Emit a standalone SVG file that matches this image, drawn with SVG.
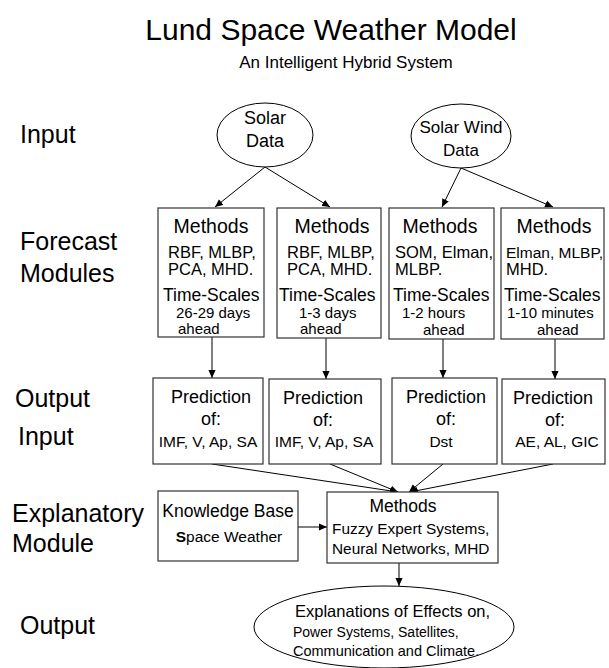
<svg xmlns="http://www.w3.org/2000/svg" width="609" height="668" viewBox="0 0 609 668">
<defs>
<marker id="ah" viewBox="0 0 10 10" refX="10" refY="5" markerWidth="8" markerHeight="8" orient="auto" markerUnits="userSpaceOnUse"><path d="M0,0.5 L10,5 L0,9.5 z" fill="#000"/></marker>
<style>
text{font-family:"Liberation Sans",Arial,sans-serif;fill:#000}
.box{fill:#fff;stroke:#333;stroke-width:1.2}
.ell{fill:#fff;stroke:#000;stroke-width:1}
.lbl{font-size:25px}
.mt{font-size:19.5px}
.l1{font-size:16.5px}
.ts{font-size:17.5px}
.sc{font-size:15px}
.pr{font-size:18px}
.pl{font-size:15.5px}
.c{text-anchor:middle}
.con{stroke:#000;stroke-width:1;fill:none;marker-end:url(#ah)}
</style>
</defs>
<rect width="609" height="668" fill="#fff"/>
<text x="331" y="40" class="c" style="font-size:30px">Lund Space Weather Model</text>
<text x="346" y="68" class="c" style="font-size:17px">An Intelligent Hybrid System</text>

<text x="20" y="143" class="lbl">Input</text>
<text x="20" y="250" class="lbl">Forecast</text>
<text x="20" y="282" class="lbl">Modules</text>
<text x="15" y="407" class="lbl">Output</text>
<text x="18" y="445" class="lbl">Input</text>
<text x="12" y="522" class="lbl">Explanatory</text>
<text x="12" y="552" class="lbl">Module</text>
<text x="20" y="634" class="lbl">Output</text>

<g id="connectors">
<line x1="265" y1="167" x2="215" y2="207" class="con"/>
<line x1="265" y1="167" x2="330" y2="207" class="con"/>
<line x1="461" y1="168" x2="442" y2="207" class="con"/>
<line x1="461" y1="168" x2="553" y2="207" class="con"/>
<line x1="212" y1="337" x2="212" y2="378" class="con"/>
<line x1="326" y1="338" x2="326" y2="379" class="con"/>
<line x1="443" y1="339" x2="443" y2="378" class="con"/>
<line x1="555" y1="339" x2="555" y2="379" class="con"/>
<line x1="212" y1="464" x2="398" y2="492" class="con"/>
<line x1="330" y1="464" x2="398" y2="492" class="con"/>
<line x1="443" y1="464" x2="409" y2="492" class="con"/>
<line x1="553" y1="464" x2="410" y2="492" class="con"/>
<line x1="298" y1="527" x2="327" y2="527" class="con"/>
<line x1="399" y1="563" x2="399" y2="586" class="con"/>
</g>

<g id="solar">
<ellipse cx="265" cy="135" rx="48" ry="32" class="ell"/>
<text x="265" y="124" class="c pr">Solar</text>
<text x="265" y="147" class="c pr">Data</text>
</g>
<g id="solarwind">
<ellipse cx="461" cy="136" rx="50" ry="32" class="ell"/>
<text x="461" y="133" class="c" style="font-size:17px">Solar Wind</text>
<text x="461" y="156" class="c" style="font-size:17px">Data</text>
</g>

<g id="fm1">
<rect x="158" y="208" width="106" height="129" class="box"/>
<text x="211" y="233" class="c mt">Methods</text>
<text x="168" y="258" class="l1">RBF, MLBP,</text>
<text x="168" y="275" class="l1">PCA, MHD.</text>
<text x="163" y="301" class="ts">Time-Scales</text>
<text x="176" y="318" class="sc">26-29 days</text>
<text x="178" y="334" class="sc">ahead</text>
</g>
<g id="fm2">
<rect x="277" y="208" width="104" height="130" class="box"/>
<text x="332" y="233" class="c mt">Methods</text>
<text x="287" y="258" class="l1">RBF, MLBP,</text>
<text x="287" y="275" class="l1">PCA, MHD.</text>
<text x="279" y="301" class="ts">Time-Scales</text>
<text x="299" y="318" class="sc">1-3 days</text>
<text x="300" y="334" class="sc">ahead</text>
</g>
<g id="fm3">
<rect x="389" y="208" width="105" height="131" class="box"/>
<text x="440" y="233" class="c mt">Methods</text>
<text x="395" y="258" class="l1">SOM, Elman,</text>
<text x="395" y="275" class="l1">MLBP.</text>
<text x="393" y="301" class="ts">Time-Scales</text>
<text x="402" y="318" class="sc">1-2 hours</text>
<text x="423" y="335" class="sc">ahead</text>
</g>
<g id="fm4">
<rect x="501" y="208" width="103" height="131" class="box"/>
<text x="554" y="233" class="c mt">Methods</text>
<text x="506" y="258" style="font-size:15.5px">Elman, MLBP,</text>
<text x="506" y="275" class="l1">MHD.</text>
<text x="504" y="301" class="ts">Time-Scales</text>
<text x="507" y="318" class="sc">1-10 minutes</text>
<text x="537" y="335" class="sc">ahead</text>
</g>

<g id="p1">
<rect x="153" y="378" width="110" height="86" class="box"/>
<text x="211" y="403" class="c pr">Prediction</text>
<text x="211" y="425" class="c pr">of:</text>
<text x="208" y="447" class="c pl">IMF, V, Ap, SA</text>
</g>
<g id="p2">
<rect x="269" y="379" width="112" height="85" class="box"/>
<text x="323" y="404" class="c pr">Prediction</text>
<text x="323" y="426" class="c pr">of:</text>
<text x="324" y="447" class="c pl">IMF, V, Ap, SA</text>
</g>
<g id="p3">
<rect x="392" y="378" width="105" height="86" class="box"/>
<text x="446" y="403" class="c pr">Prediction</text>
<text x="446" y="425" class="c pr">of:</text>
<text x="441" y="447" class="c pl">Dst</text>
</g>
<g id="p4">
<rect x="502" y="379" width="103" height="85" class="box"/>
<text x="553" y="404" class="c pr">Prediction</text>
<text x="555" y="426" class="c pr">of:</text>
<text x="557" y="447" class="c pl">AE, AL, GIC</text>
</g>

<g id="kb">
<rect x="158" y="491" width="140" height="70" class="box"/>
<text x="228" y="517" class="c" style="font-size:17.5px">Knowledge Base</text>
<text x="229" y="542" class="c" style="font-size:15.5px"><tspan font-weight="bold">S</tspan>pace Weather</text>
</g>
<g id="methods">
<rect x="327" y="492" width="171" height="71" class="box"/>
<text x="403" y="512" class="c" style="font-size:17.5px">Methods</text>
<text x="332" y="534" style="font-size:15.4px">Fuzzy Expert Systems,</text>
<text x="332" y="554" style="font-size:15.4px">Neural Networks, MHD</text>
</g>
<g id="explain">
<ellipse cx="384" cy="627" rx="130" ry="41" class="ell"/>
<text x="295" y="617" style="font-size:16.5px">Explanations of Effects on,</text>
<text x="293" y="637" style="font-size:14px">Power Systems, Satellites,</text>
<text x="293" y="656" style="font-size:14.5px">Communication and Climate.</text>
</g>
</svg>
